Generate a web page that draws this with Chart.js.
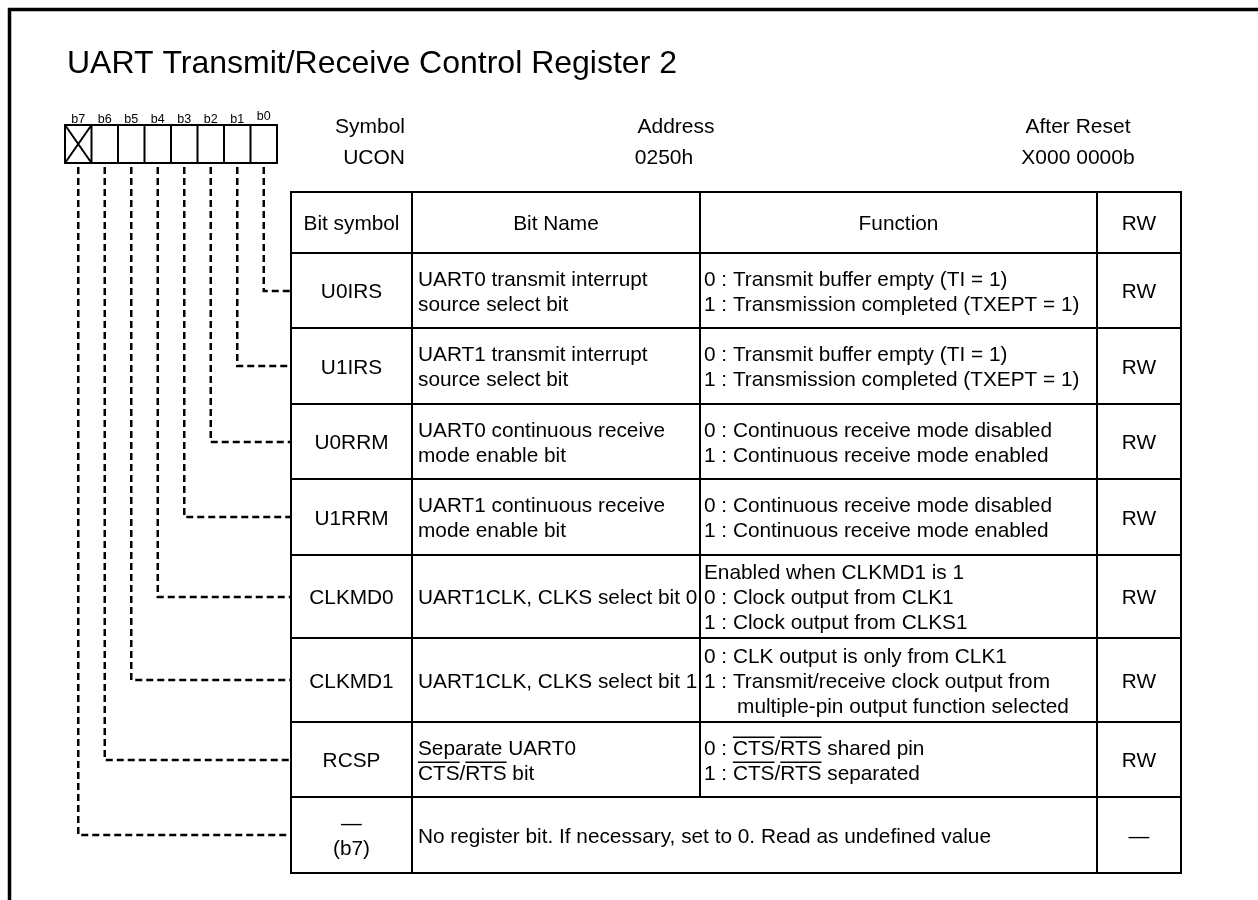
<!DOCTYPE html>
<html>
<head>
<meta charset="utf-8">
<title>UART Transmit/Receive Control Register 2</title>
<script src="https://cdn.jsdelivr.net/npm/chart.js@4.4.0/dist/chart.umd.min.js"></script>
<style>
  html, body { margin: 0; padding: 0; background: #fff; }
  canvas { display: block; }
</style>
</head>
<body>
<canvas id="regChart" width="1258" height="900"></canvas>
<script>
// register data ('~' marks an overlined part of the text)
const chartTitle = 'UART Transmit/Receive Control Register 2';
const bitLabels = ['b7', 'b6', 'b5', 'b4', 'b3', 'b2', 'b1', 'b0'];
const infoLabels = ['Symbol', 'Address', 'After Reset'];
const infoValues = ['UCON', '0250h', 'X000 0000b'];
const headerLabels = ['Bit symbol', 'Bit Name', 'Function', 'RW'];
const bitSymbols = [
  ['U0IRS'], ['U1IRS'], ['U0RRM'], ['U1RRM'],
  ['CLKMD0'], ['CLKMD1'], ['RCSP'], ['\u2014', '(b7)']
];
const bitNames = [
  ['UART0 transmit interrupt', 'source select bit'],
  ['UART1 transmit interrupt', 'source select bit'],
  ['UART0 continuous receive', 'mode enable bit'],
  ['UART1 continuous receive', 'mode enable bit'],
  ['UART1CLK, CLKS select bit 0'],
  ['UART1CLK, CLKS select bit 1'],
  ['Separate UART0', '~CTS~/~RTS~ bit'],
  ['No register bit. If necessary, set to 0. Read as undefined value']
];
const bitFunctions = [
  ['0 : Transmit buffer empty (TI = 1)', '1 : Transmission completed (TXEPT = 1)'],
  ['0 : Transmit buffer empty (TI = 1)', '1 : Transmission completed (TXEPT = 1)'],
  ['0 : Continuous receive mode disabled', '1 : Continuous receive mode enabled'],
  ['0 : Continuous receive mode disabled', '1 : Continuous receive mode enabled'],
  ['Enabled when CLKMD1 is 1', '0 : Clock output from CLK1', '1 : Clock output from CLKS1'],
  ['0 : CLK output is only from CLK1', '1 : Transmit/receive clock output from', '     \u2009multiple-pin output function selected'],
  ['0 : ~CTS~/~RTS~ shared pin', '1 : ~CTS~/~RTS~ separated'],
  null
];
const rwValues = ['RW', 'RW', 'RW', 'RW', 'RW', 'RW', 'RW', '\u2014'];
const rowBits = [0, 1, 2, 3, 4, 5, 6, 7]; // bit number described by each row

// layout
const FONT = '"Liberation Sans", Arial, sans-serif';
const colEdges = [291, 412, 700, 1097, 1181];
const rowEdges = [192, 253, 328, 404, 479, 555, 638, 722, 797, 873];
const box = { left: 65, top: 125, bottom: 163, cell: 26.5 };
const LINE_H = 25;
const CAP = 15;

function rowMid(r) { return (rowEdges[r + 1] + rowEdges[r + 2]) / 2; }
function cellX(bit) { return box.left + (7 - bit + 0.5) * box.cell; }

// dashed leaders from each bit cell to its table row
const connectors = rowBits.map((bit, r) => ({
  data: [
    { x: cellX(bit), y: box.bottom + 4 },
    { x: cellX(bit), y: Math.round(rowMid(r)) },
    { x: colEdges[0], y: Math.round(rowMid(r)) }
  ],
  showLine: true,
  borderColor: '#000',
  borderWidth: 2.5,
  borderDash: [7, 4],
  borderJoinStyle: 'miter',
  pointRadius: 0,
  tension: 0
}));

function drawRich(ctx, text, x, y, align) {
  const parts = text.split('~');
  const total = parts.reduce((w, p) => w + ctx.measureText(p).width, 0);
  let cx = align === 'center' ? x - total / 2 : align === 'right' ? x - total : x;
  ctx.textAlign = 'left';
  parts.forEach((p, i) => {
    const w = ctx.measureText(p).width;
    ctx.fillText(p, cx, y);
    if (i % 2 === 1) ctx.fillRect(cx, y - CAP - 3, w, 1.5);
    cx += w;
  });
}

function drawLines(ctx, lines, x, yMid, align) {
  lines.forEach((line, k) => {
    const base = yMid - (lines.length - 1) * LINE_H / 2 + k * LINE_H + CAP / 2;
    drawRich(ctx, line, x, base, align);
  });
}

const registerPlugin = {
  id: 'register',
  beforeDraw(chart) {
    const ctx = chart.ctx;
    ctx.save();
    ctx.fillStyle = '#fff';
    ctx.fillRect(0, 0, chart.width, chart.height);
    ctx.restore();
  },
  afterDatasetsDraw(chart) {
    const ctx = chart.ctx;
    const sx = v => chart.scales.x.getPixelForValue(v);
    const sy = v => chart.scales.y.getPixelForValue(v);
    ctx.save();
    ctx.fillStyle = '#000';
    ctx.strokeStyle = '#000';
    ctx.textBaseline = 'alphabetic';

    // frame
    ctx.lineWidth = 3.5;
    ctx.beginPath();
    ctx.moveTo(sx(9.5), sy(900));
    ctx.lineTo(sx(9.5), sy(9.5));
    ctx.lineTo(sx(1258), sy(9.5));
    ctx.stroke();

    // title
    ctx.font = '32px ' + FONT;
    ctx.textAlign = 'left';
    ctx.fillText(chartTitle, sx(67), sy(73));

    // bit cells
    ctx.lineWidth = 2;
    ctx.strokeRect(sx(box.left), sy(box.top), sx(box.left + 8 * box.cell) - sx(box.left), sy(box.bottom) - sy(box.top));
    ctx.beginPath();
    for (let i = 1; i < 8; i++) {
      ctx.moveTo(sx(box.left + i * box.cell), sy(box.top));
      ctx.lineTo(sx(box.left + i * box.cell), sy(box.bottom));
    }
    ctx.moveTo(sx(box.left), sy(box.top));
    ctx.lineTo(sx(box.left + box.cell), sy(box.bottom));
    ctx.moveTo(sx(box.left + box.cell), sy(box.top));
    ctx.lineTo(sx(box.left), sy(box.bottom));
    ctx.stroke();
    ctx.font = '12.5px ' + FONT;
    ctx.textAlign = 'center';
    bitLabels.forEach((b, i) => {
      ctx.fillText(b, sx(box.left + (i + 0.5) * box.cell), sy(i === 7 ? 120 : 122.5));
    });

    // symbol / address / reset
    ctx.font = '21px ' + FONT;
    const infoX = [405, 676, 1078];
    const infoValX = [405, 664, 1078];
    infoLabels.forEach((t, i) => {
      ctx.textAlign = i === 0 ? 'right' : 'center';
      ctx.fillText(t, sx(infoX[i]), sy(133));
      ctx.fillText(infoValues[i], sx(infoValX[i]), sy(163.5));
    });

    // table grid
    ctx.font = '20.8px ' + FONT;
    ctx.lineWidth = 2;
    ctx.beginPath();
    rowEdges.forEach(y => {
      ctx.moveTo(sx(colEdges[0] - 1), sy(y));
      ctx.lineTo(sx(colEdges[4] + 1), sy(y));
    });
    colEdges.forEach((x, c) => {
      ctx.moveTo(sx(x), sy(rowEdges[0]));
      const last = c === 2 ? rowEdges[rowEdges.length - 2] : rowEdges[rowEdges.length - 1];
      ctx.lineTo(sx(x), sy(last));
    });
    ctx.stroke();

    // header row
    const hMid = (rowEdges[0] + rowEdges[1]) / 2;
    headerLabels.forEach((t, c) => {
      drawLines(ctx, [t], sx((colEdges[c] + colEdges[c + 1]) / 2), sy(hMid), 'center');
    });

    // body rows
    rowBits.forEach((bit, r) => {
      const m = sy(rowMid(r));
      drawLines(ctx, bitSymbols[r], sx((colEdges[0] + colEdges[1]) / 2), m, 'center');
      drawLines(ctx, bitNames[r], sx(colEdges[1] + 6), m, 'left');
      if (bitFunctions[r]) drawLines(ctx, bitFunctions[r], sx(colEdges[2] + 4), m, 'left');
      drawLines(ctx, [rwValues[r]], sx((colEdges[3] + colEdges[4]) / 2), m, 'center');
    });
    ctx.restore();
  }
};

new Chart(document.getElementById('regChart').getContext('2d'), {
  type: 'scatter',
  data: { datasets: connectors },
  options: {
    responsive: false,
    devicePixelRatio: 1,
    animation: false,
    layout: { padding: 0 },
    scales: {
      x: { type: 'linear', min: 0, max: 1258, display: false },
      y: { type: 'linear', min: 0, max: 900, reverse: true, display: false }
    },
    plugins: { legend: { display: false }, tooltip: { enabled: false } }
  },
  plugins: [registerPlugin]
});
</script>
</body>
</html>
